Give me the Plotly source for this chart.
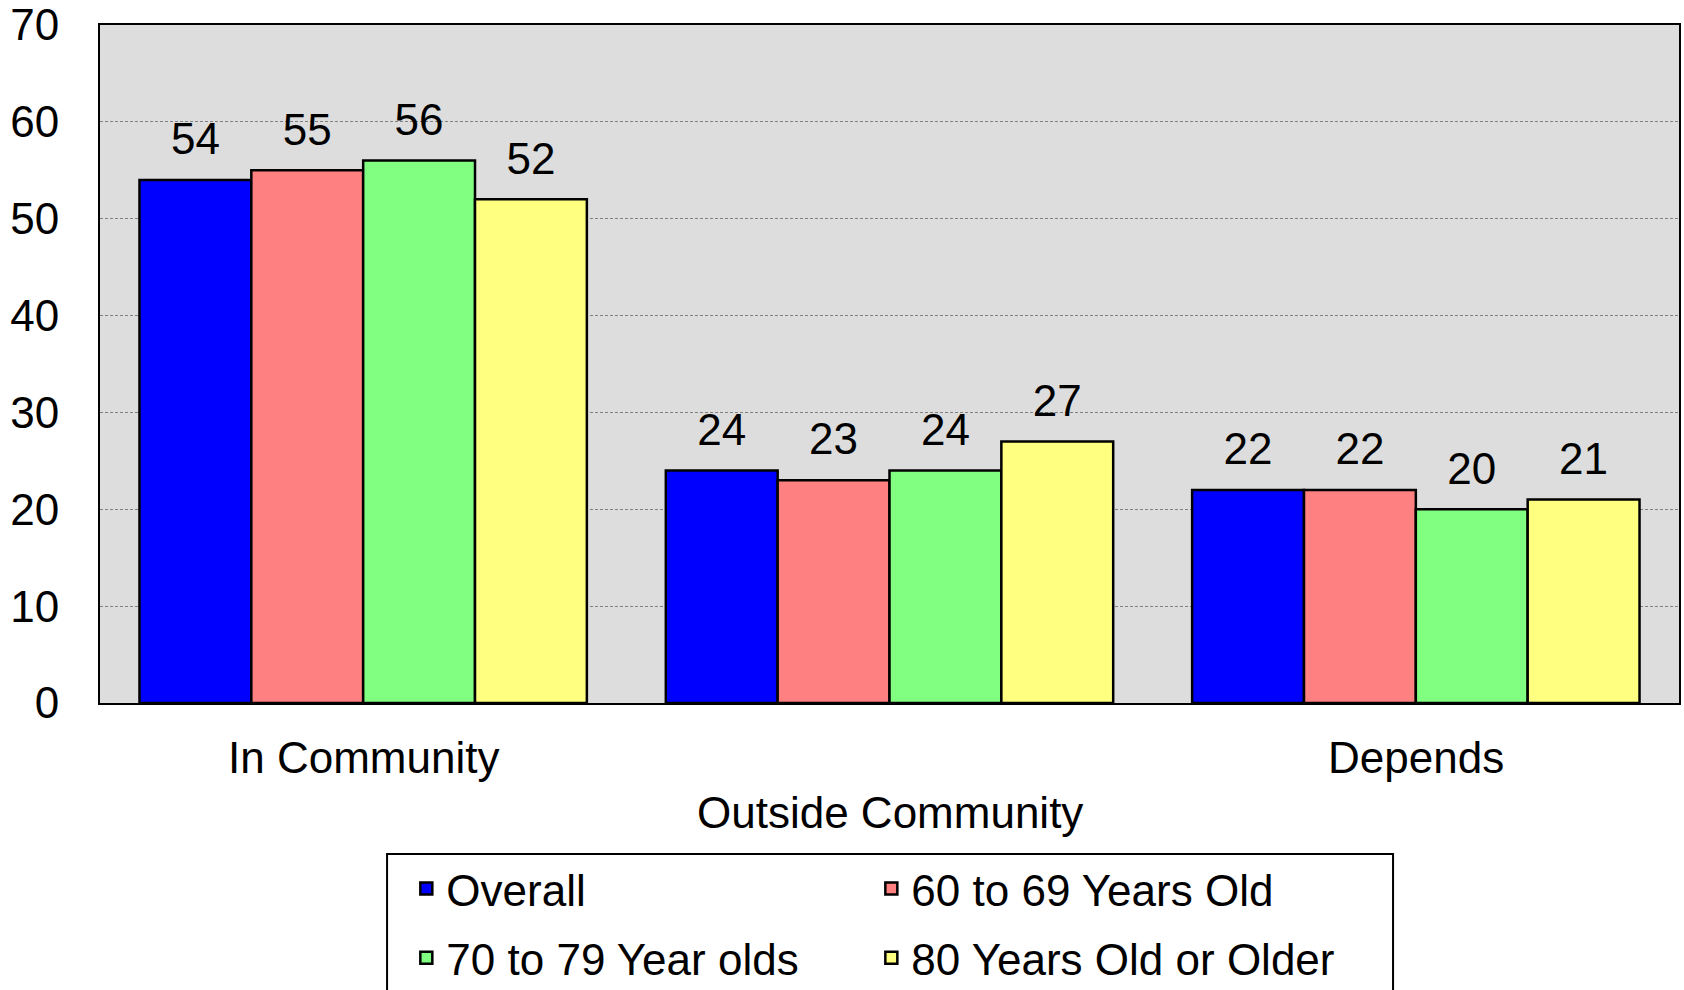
import plotly.graph_objects as go

# categories and series
categories = ["In Community", "Outside Community", "Depends"]
series_names = ["Overall", "60 to 69 Years Old", "70 to 79 Year olds", "80 Years Old or Older"]
overall = [54, 24, 22]
age_60_69 = [55, 23, 22]
age_70_79 = [56, 24, 20]
age_80_plus = [52, 27, 21]
y_ticks = [0, 10, 20, 30, 40, 50, 60, 70]

colors = ["#0000FF", "#FF8080", "#80FF80", "#FFFF80"]
legend_ids = ["legend", "legend2", "legend", "legend2"]  # two columns
FONT = "Liberation Sans, Arial, sans-serif"
FS = 44

fig = go.Figure()
all_vals = [overall, age_60_69, age_70_79, age_80_plus]
for name, vals, col, lg in zip(series_names, all_vals, colors, legend_ids):
    fig.add_trace(go.Bar(
        x=categories, y=vals, name=name, legend=lg, legendgroup=name,
        marker=dict(color=col, line=dict(color="black", width=2.5)),
    ))

# value labels: grouped text-only scatter so they sit above each bar with a gap
for name, vals in zip(series_names, all_vals):
    fig.add_trace(go.Scatter(
        x=categories, y=vals, mode="markers+text", showlegend=False,
        text=[str(v) for v in vals], textposition="top center",
        marker=dict(size=22, color="rgba(0,0,0,0)"),
        textfont=dict(size=FS, color="black", family=FONT),
        cliponaxis=False, hoverinfo="skip",
    ))

# staggered category labels (Excel style)
label_y = [-0.081, -0.162, -0.081]
for cat, yy in zip(categories, label_y):
    fig.add_annotation(x=cat, y=yy, xref="x", yref="paper", text=cat,
                       showarrow=False, yanchor="middle",
                       font=dict(size=FS, color="black", family=FONT))

# frame around the two legend columns
fig.add_shape(type="rect", xref="paper", yref="paper",
              x0=0.1818, x1=0.8189, y0=-0.2227, y1=-0.43,
              line=dict(color="black", width=2), fillcolor="white", layer="below")

leg_common = dict(orientation="v", y=-0.222, yanchor="top", xanchor="left",
                  bgcolor="rgba(0,0,0,0)", borderwidth=0, tracegroupgap=9,
                  font=dict(size=FS, family=FONT, color="black"))

fig.update_layout(
    width=1684, height=990,
    margin=dict(l=100, r=5, t=25, b=287, autoexpand=False),
    paper_bgcolor="white", plot_bgcolor="#DDDDDD",
    barmode="group", bargap=0.15, bargroupgap=0.0,
    scattermode="group", scattergap=0.15,
    font=dict(family=FONT, size=FS, color="black"),
    showlegend=True,
    legend=dict(x=0.194, **leg_common),
    legend2=dict(x=0.4885, **leg_common),
)
fig.update_xaxes(showticklabels=False, showline=True, linecolor="black", linewidth=2,
                 mirror=True, ticks="")
fig.update_yaxes(range=[0, 70], tickvals=y_ticks, showgrid=True,
                 gridcolor="#808080", griddash="3px,2px", gridwidth=1,
                 showline=True, linecolor="black", linewidth=2, mirror=True,
                 ticks="", ticklabelstandoff=30, zeroline=False,
                 tickfont=dict(size=FS, family=FONT, color="black"))

fig.write_html("out.html", config={"displayModeBar": False},
               post_script="document.body.style.margin='0';")
